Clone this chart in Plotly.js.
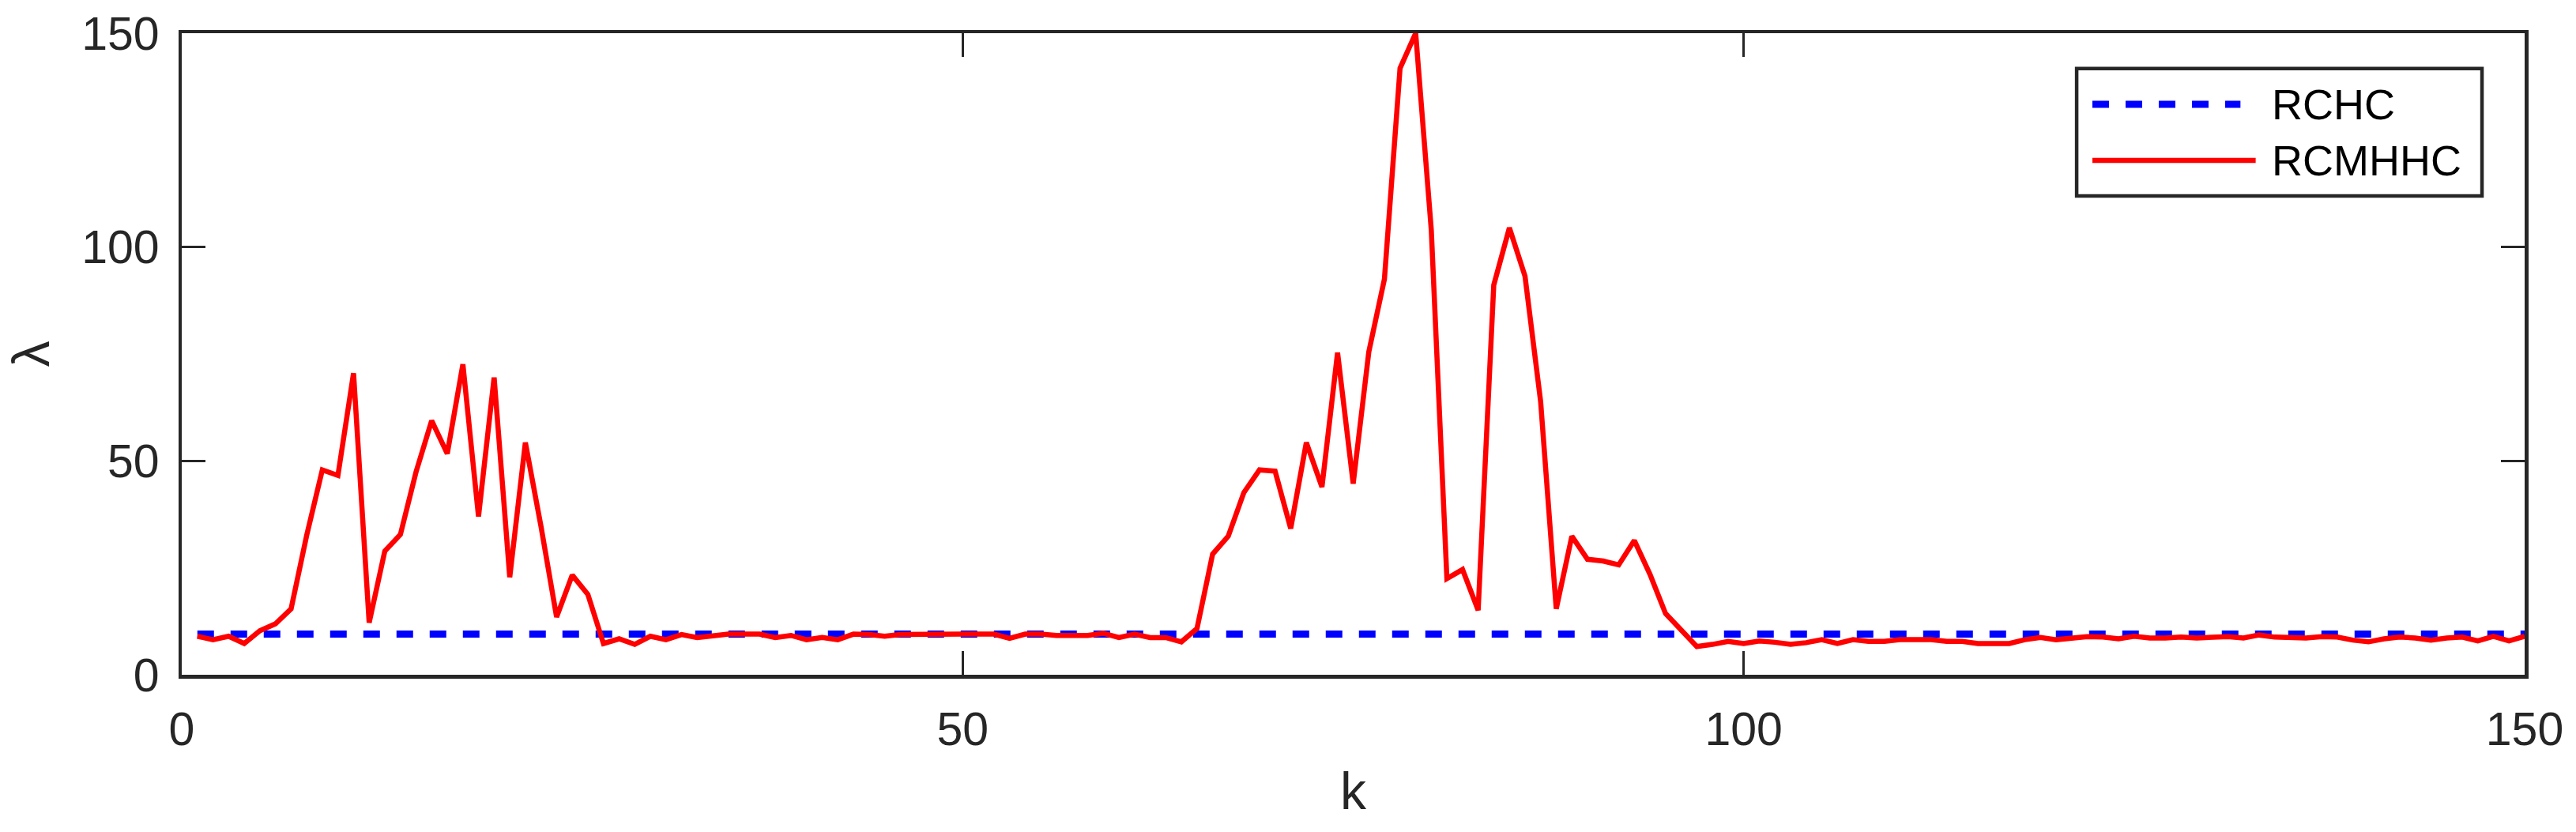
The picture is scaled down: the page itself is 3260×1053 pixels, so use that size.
<!DOCTYPE html>
<html>
<head>
<meta charset="utf-8">
<script src="https://cdn.plot.ly/plotly-3.0.1.min.js"></script>
<style>
  html, body { margin: 0; padding: 0; background: #ffffff; }
  #chart { width: 3260px; height: 1053px; }
</style>
</head>
<body>
<div id="chart"></div>
<script>
// ---- data ----
const kValues = [
  1,2,3,4,5,6,7,8,9,10,11,12,13,14,15,16,17,18,19,20,
  21,22,23,24,25,26,27,28,29,30,31,32,33,34,35,36,37,38,39,40,
  41,42,43,44,45,46,47,48,49,50,51,52,53,54,55,56,57,58,59,60,
  61,62,63,64,65,66,67,68,69,70,71,72,73,74,75,76,77,78,79,80,
  81,82,83,84,85,86,87,88,89,90,91,92,93,94,95,96,97,98,99,100,
  101,102,103,104,105,106,107,108,109,110,111,112,113,114,115,116,117,118,119,120,
  121,122,123,124,125,126,127,128,129,130,131,132,133,134,135,136,137,138,139,140,
  141,142,143,144,145,146,147,148,149,150
];

const rcmhhcLambda = [
  9.0, 8.2, 9.0, 7.3, 10.3, 11.9, 15.4, 32.6, 47.9, 46.6,
  70.5, 12.2, 28.9, 32.8, 47.4, 59.4, 51.7, 72.6, 37.0, 69.5,
  22.8, 54.3, 34.7, 13.5, 23.3, 18.8, 7.3, 8.4, 7.1, 9.0,
  8.2, 9.4, 8.7, 9.2, 9.5, 9.5, 9.5, 8.7, 9.2, 8.2,
  8.7, 8.2, 9.5, 9.4, 9.0, 9.4, 9.5, 9.5, 9.5, 9.5,
  9.5, 9.5, 8.5, 9.5, 9.5, 9.2, 9.2, 9.2, 9.7, 8.7,
  9.5, 8.7, 8.7, 7.7, 10.8, 28.2, 32.4, 42.6, 47.9, 47.6,
  34.2, 54.3, 43.9, 75.3, 44.7, 75.5, 92.5, 141.8, 150.0, 104.0,
  22.5, 24.6, 15.1, 91.1, 104.5, 93.2, 63.9, 15.4, 32.4, 27.0,
  26.6, 25.7, 31.4, 23.5, 14.3, 10.6, 6.6, 7.1, 7.8, 7.3,
  7.9, 7.6, 7.1, 7.5, 8.2, 7.3, 8.2, 7.8, 7.8, 8.2,
  8.2, 8.2, 7.8, 7.8, 7.3, 7.3, 7.3, 8.2, 8.7, 8.2,
  8.7, 8.9, 8.8, 8.4, 9.0, 8.6, 8.6, 8.8, 8.6, 8.8,
  8.9, 8.6, 9.3, 8.8, 8.6, 8.6, 8.9, 8.8, 8.1, 7.7,
  8.4, 8.8, 8.6, 8.1, 8.6, 8.8, 7.9, 9.0, 7.9, 9.0
];

const rchcK = [1, 150];
const rchcLambda = [9.5, 9.5];

const seriesNames = ["RCHC", "RCMHHC"];
const xTickValues = [0, 50, 100, 150];
const yTickValues = [0, 50, 100, 150];
const xTitle = "k";
const yTitle = "λ";

// ---- styling ----
const axisColor = "#262626";
const fontFamily = "Liberation Sans, Arial, Helvetica, sans-serif";
const blue = "#0000FF";
const red = "#FF0000";
const dashPattern = "21px,21px";

const traces = [
  {
    x: rchcK, y: rchcLambda, name: seriesNames[0], type: "scatter", mode: "lines",
    line: { color: blue, width: 9, dash: dashPattern },
    showlegend: false, hoverinfo: "skip"
  },
  {
    x: kValues, y: rcmhhcLambda, name: seriesNames[1], type: "scatter", mode: "lines",
    line: { color: red, width: 6.5, shape: "linear" },
    showlegend: false, hoverinfo: "skip"
  }
];

// custom MATLAB-style legend (paper coordinates)
const lgX0 = 0.8088, lgX1 = 0.9818, lgY0 = 0.7462, lgY1 = 0.9449;
const rowY = [0.8891, 0.8016];
const sampleX0 = 0.8155, sampleX1 = [0.8787, 0.8852];
const textX = 0.8914;

const shapes = [
  { type: "rect", xref: "paper", yref: "paper", x0: lgX0, x1: lgX1, y0: lgY0, y1: lgY1,
    line: { color: axisColor, width: 4.5 }, fillcolor: "#ffffff", layer: "above" },
  { type: "line", xref: "paper", yref: "paper", x0: sampleX0, x1: sampleX1[0], y0: rowY[0], y1: rowY[0],
    line: { color: blue, width: 9, dash: dashPattern }, layer: "above" },
  { type: "line", xref: "paper", yref: "paper", x0: sampleX0, x1: sampleX1[1], y0: rowY[1], y1: rowY[1],
    line: { color: red, width: 6.5 }, layer: "above" }
];

const annotations = seriesNames.map((name, i) => ({
  text: name, xref: "paper", yref: "paper", x: textX, y: rowY[i],
  xanchor: "left", yanchor: "middle", showarrow: false,
  font: { family: fontFamily, size: 54, color: "#000000" }
}));

const layout = {
  width: 3260, height: 1053,
  paper_bgcolor: "#ffffff", plot_bgcolor: "#ffffff",
  margin: { l: 229.5, r: 65, t: 42, b: 199.4, pad: 0 },
  showlegend: false,
  font: { family: fontFamily, color: axisColor },
  xaxis: {
    range: [0, 150], tickvals: xTickValues, ticktext: xTickValues.map(String),
    ticks: "inside", ticklen: 30, tickwidth: 3, tickcolor: axisColor,
    showline: true, linewidth: 4.5, linecolor: axisColor, mirror: "ticks",
    showgrid: false, zeroline: false,
    tickfont: { family: fontFamily, size: 59, color: axisColor },
    ticklabelstandoff: 14,
    title: { text: xTitle, font: { family: fontFamily, size: 66, color: axisColor }, standoff: 24 },
    automargin: false
  },
  yaxis: {
    range: [0, 150], tickvals: yTickValues, ticktext: yTickValues.map(String),
    ticks: "inside", ticklen: 30, tickwidth: 3, tickcolor: axisColor,
    showline: true, linewidth: 4.5, linecolor: axisColor, mirror: "ticks",
    showgrid: false, zeroline: false,
    tickfont: { family: fontFamily, size: 59, color: axisColor },
    ticklabelstandoff: 12,
    title: { text: yTitle, font: { family: fontFamily, size: 66, color: axisColor }, standoff: 20 },
    automargin: false
  },
  shapes: shapes,
  annotations: annotations
};

Plotly.newPlot("chart", traces, layout, { staticPlot: true, displayModeBar: false });
</script>
</body>
</html>
